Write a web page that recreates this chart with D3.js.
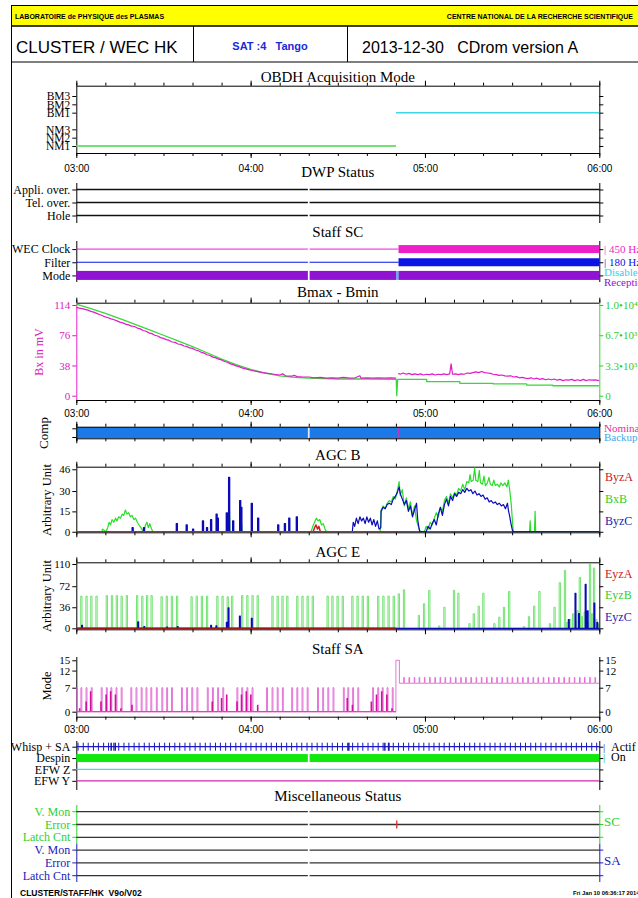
<!DOCTYPE html>
<html>
<head>
<meta charset="utf-8">
<title>CLUSTER / WEC HK</title>
<script src="https://cdn.jsdelivr.net/npm/d3@7"></script>
<style>
  body { margin: 0; background: #fff; }
  svg { display: block; }
</style>
</head>
<body>
<svg id="chart" width="638" height="898"></svg>
<script>
// all times are minutes after 03:00 UT, 2013-12-30

// OBDH acquisition mode
const obdhModes = ['NM1', 'NM2', 'NM3', '', 'BM1', 'BM2', 'BM3']
const obdhSegments = [['NM1', 0, 110.05], ['BM1', 110.05, 180]]

// DWP status
const dwpRows = ['Appli. over.', 'Tel. over.', 'Hole']
const dataGap = [79.7, 80.3]

// Staff SC : [row, from, to, level]  level 1 = set, 2 = alternate
const scRows = ['WEC Clock', 'Filter', 'Mode']
const scSegments = [
  ['WEC Clock', 0, 79.7, 0], ['WEC Clock', 80.3, 110.9, 0], ['WEC Clock', 110.9, 180, 1],
  ['Filter', 0, 79.7, 0], ['Filter', 80.3, 110.9, 0], ['Filter', 110.9, 180, 1],
  ['Mode', 0, 79.7, 1], ['Mode', 80.3, 110.2, 1], ['Mode', 110.2, 110.9, 2], ['Mode', 110.9, 180, 1]
]
const scLegend = ['| 450 Hz', '| 180 Hz', 'Disabled', 'Reception']

// Bmax - Bmin
const bxTicks = [0, 38, 76, 114]
const bmaxTicks = [0, 3333, 6667, 10000]
const bmaxTickLabels = ['0', '3.3\u202210\u00b3', '6.7\u202210\u00b3', '1.0\u202210\u2074']
const bxMv = [
  [0, 111], [1, 110], [2, 109.5], [3, 108.5], [4, 107.5], [5, 106], [6, 105], [7, 103.5], [8, 102],
  [9, 100.5], [10, 99], [11, 98], [12, 96.5], [13, 95.5], [14, 94], [15, 92.5], [16, 91.5], [17, 90],
  [18, 89], [19, 87.5], [20, 87], [21, 85], [22, 84], [23, 82], [24, 81], [25, 79], [26, 78], [27, 76],
  [28, 75], [29, 73], [30, 72], [31, 70.5], [32, 69.5], [33, 67.5], [34, 67], [35, 65], [36, 64.5],
  [37, 62.5], [38, 62], [39, 60], [40, 59.5], [41, 57.5], [42, 56.5], [43, 54.5], [44, 53.5], [45, 51.5],
  [46, 50.5], [47, 48.5], [48, 47.5], [49, 46], [50, 45], [51, 43], [52, 42], [53, 40], [54, 39],
  [55, 37.5], [56, 36.5], [57, 35], [58, 34], [59, 33], [60, 32], [62, 30.5], [64, 29], [66, 28], [68, 27],
  [70, 26], [71, 27.5], [72, 25], [74, 24.5], [75, 25.5], [76, 24], [78, 23.5], [80, 23.5], [82, 22.5],
  [84, 23], [86, 22], [88, 22.5], [90, 22], [92, 23], [94, 22], [96, 22.5], [97.6, 25], [98, 22],
  [100, 22.5], [102, 22], [104, 22.5], [106, 22], [108, 22.5], [110.1, 22], [110.2, null],
  [110.8, 28], [111.5, 27], [112.5, 28.5], [113.5, 27], [114.5, 28], [115.5, 26.5], [116.5, 27.5],
  [117.5, 26.5], [118.5, 27.5], [119.5, 26], [120.5, 27], [121.5, 26.5], [122.5, 27.5], [123.5, 26],
  [124.5, 27], [125.5, 26.5], [126.5, 27.5], [127.5, 26.5], [128.5, 27.5], [129, 40], [129.5, 27],
  [130.5, 27.5], [131.5, 26.5], [132.5, 27.5], [133.5, 27], [134.5, 28.5], [135.5, 28], [136.5, 29],
  [137.5, 30], [138.5, 29], [139.5, 30.5], [140.5, 29], [141.5, 28.5], [142.5, 28], [143.5, 27],
  [144.5, 26.5], [145.5, 25.5], [146.5, 26], [147.5, 25], [148.5, 24.5], [149.5, 25], [150.5, 23.5],
  [151.5, 24], [152.5, 22.5], [153.5, 23], [154.5, 22], [155.5, 21.5], [156.5, 22.5], [157.5, 21],
  [158.5, 22], [159.5, 20.5], [160.5, 21.5], [161.5, 20], [162.5, 21], [163.5, 20], [164.5, 21],
  [165.5, 19.5], [166.5, 20.5], [167.5, 19], [168.5, 20], [169.5, 19.5], [170.5, 20.5], [171.5, 19],
  [172.5, 20], [173.5, 19], [174.5, 20.5], [175.5, 19], [176.5, 20], [177.5, 19.5], [178.5, 20], [180, 19]
]
const bmax = [
  [0, 10088], [5, 9605], [10, 9079], [15, 8509], [20, 7895], [25, 7281], [30, 6667], [35, 6053],
  [40, 5404], [45, 4737], [50, 4035], [55, 3421], [60, 2895], [65, 2500], [70, 2193], [75, 2018],
  [80, 1930], [90, 1842], [100, 1842], [110.1, 1807], [110.3, 0], [110.6, 1807], [120.6, 1807],
  [120.6, 1544], [132, 1544], [132, 1368], [143.5, 1368], [143.5, 1298], [155, 1298], [155, 1175],
  [164, 1175], [164, 1096], [180, 1096]
]

// Comp
const compRows = ['Nominal', 'Backup']
const compSwitch = [110.6, 111.1]

// AGC B
const agcBTicks = [0, 15, 30, 46]
const agcBLegend = ['ByzA', 'BxB', 'ByzC']
const byzA = [[0, 0], [81.5, 0], [82, 3], [82.5, 5], [83, 2], [83.5, 4], [84, 0], [110.2, 0]]
const bxB = [
  [0, 0], [8.8, 0], [9, 2], [9.6, 1], [10.2, 0], [10.8, 3], [11.3, 7], [11.8, 5], [12.3, 9], [12.9, 7],
  [13.5, 10], [14, 8], [14.6, 11], [15.2, 10], [15.8, 13], [16.3, 12], [16.9, 16], [17.4, 13], [18, 14],
  [18.6, 11], [19.2, 12], [19.8, 9], [20.4, 10], [21, 7], [21.6, 5], [22.2, 3], [22.8, 1], [23.3, 0],
  [23.8, 5], [24.3, 7], [24.8, 3], [25.3, 6], [25.9, 2], [26.4, 0], [52.3, 0], [52.6, 26], [52.9, 0],
  [56.5, 0], [56.8, 8], [57.1, 0], [80.8, 0], [81.4, 4], [82, 7], [82.6, 10], [83.2, 8], [83.8, 9],
  [84.4, 5], [85, 6], [85.6, 2], [86.2, 0], [104.6, 0], [104.9, 16], [105.6, 19], [106.3, 17], [107, 21],
  [107.7, 23], [108.4, 22], [109.1, 26], [109.8, 24], [110.5, 30], [111.1, 37], [111.5, 27], [112.2, 31],
  [112.9, 19], [113.6, 25], [114.3, 17], [115, 22], [115.7, 12], [116.4, 19], [117.1, 8], [117.7, 4],
  [118.3, 0], [119.8, 0], [120.4, 4], [121.1, 2], [121.8, 7], [122.5, 5], [123.2, 10], [123.9, 14],
  [124.6, 11], [125.3, 18], [126, 15], [126.7, 23], [127.4, 26], [128.1, 21], [128.8, 28], [129.5, 25],
  [130.2, 29], [130.9, 27], [131.6, 32], [132.3, 30], [133, 35], [133.7, 31], [134.4, 37], [135.1, 36],
  [135.5, 42], [135.9, 37], [136.6, 38], [137.1, 47], [137.5, 38], [138.2, 37], [138.7, 45], [139.1, 36],
  [139.8, 35], [140.3, 41], [140.8, 34], [141.5, 36], [142, 40], [142.5, 35], [143.2, 34], [143.7, 38],
  [144.2, 34], [144.9, 35], [145.6, 33], [146.1, 36], [146.8, 34], [147.5, 36], [148.2, 33], [148.7, 38],
  [149.2, 30], [149.7, 20], [150.1, 8], [150.4, 0], [156, 0], [156.2, 8], [156.4, 0], [157.7, 0],
  [157.9, 15], [158.1, 0], [180, 0]
]
const byzCSpikes = [
  [19.4, 3], [23.3, 3], [34.6, 6], [38, 5], [40.2, 2], [43.6, 8], [45, 3], [46.4, 9], [48.3, 13],
  [48.7, 10], [51.8, 14], [52.6, 40], [54, 8], [56.4, 23], [56.8, 18], [60.4, 21], [62.6, 10],
  [69.5, 5], [71.8, 6], [73.3, 10], [75.9, 11]
]
const byzC = [
  [95, 0], [95.3, 7], [95.8, 4], [96.4, 10], [97, 6], [97.6, 11], [98.2, 8], [98.8, 10], [99.4, 6],
  [100, 11], [100.6, 7], [101.2, 10], [101.8, 5], [102.4, 9], [103, 4], [103.6, 8], [104.2, 2], [104.8, 3],
  [104.9, 15], [105.6, 18], [106.3, 17], [107, 20], [107.7, 21], [108.4, 20], [109.1, 24], [109.8, 26],
  [110.5, 29], [111.1, 33], [111.5, 28], [112.2, 24], [112.9, 20], [113.6, 23], [114.3, 15], [115, 19],
  [115.7, 11], [116.4, 16], [117.1, 21], [117.5, 9], [118, 2], [118.3, 0], [120.4, 0], [121.1, 4],
  [121.8, 2], [122.5, 6], [123.2, 9], [123.9, 5], [124.6, 13], [125.3, 18], [126, 12], [126.7, 20],
  [127.4, 24], [128.1, 19], [128.8, 26], [129.5, 23], [130.2, 28], [130.9, 26], [131.6, 29], [132.3, 28],
  [133, 31], [133.7, 29], [134.4, 32], [135.1, 30], [135.8, 31], [136.5, 28], [137.2, 30], [137.9, 27],
  [138.6, 28], [139.3, 26], [140, 27], [140.7, 24], [141.4, 25], [142.1, 22], [142.8, 23], [143.5, 21],
  [144.2, 22], [144.9, 20], [145.6, 21], [146.3, 19], [147, 20], [147.7, 17], [148.4, 21], [148.7, 16],
  [149.1, 12], [149.6, 6], [150.1, 1], [150.4, 0], [180, 0]
]

// AGC E
const agcETicks = [0, 36, 72, 110]
const agcELegend = ['EyzA', 'EyzB', 'EyzC']
const eyzA = [[0, 0], [110.2, 0]]
const eyzB = [
  [1.74, 55], [3.52, 55], [5.18, 55], [6.96, 55], [10.51, 56], [12.29, 56], [13.95, 56], [15.61, 55],
  [17.39, 56], [20.95, 56], [22.72, 55], [24.38, 56], [25.92, 56], [29.36, 54], [31.14, 55], [32.92, 55],
  [34.7, 55], [39.68, 54], [41.45, 55], [43.23, 55], [45.01, 55], [48.56, 55], [50.34, 55], [52.12, 54],
  [53.66, 55], [57.1, 56], [58.88, 56], [60.66, 56], [62.43, 56], [67.53, 55], [69.31, 55], [70.97, 55],
  [72.63, 55], [76.07, 55], [77.85, 55], [79.62, 55], [81.4, 55], [86.5, 55], [88.16, 55], [89.93, 55],
  [91.71, 55], [95.03, 55], [96.81, 55], [98.59, 55], [100.37, 55], [103.92, 55], [105.7, 55],
  [107.48, 55], [109.26, 55],
  [111, 59], [112.8, 66], [117.9, 22], [119.7, 42], [121.5, 65], [124.9, 4], [126.7, 36], [130, 65],
  [131.5, 60], [135.3, 8], [136.8, 25], [138.5, 38], [140.1, 60], [143.9, 8], [145.6, 19], [147.2, 36],
  [149, 63], [154.1, 3], [155.8, 20], [157.6, 38], [159.4, 63], [163, 8], [164.6, 36], [166.4, 78],
  [168.2, 99], [169, 10], [170, 15], [171, 25], [172, 12], [172.5, 30], [173.3, 87], [174, 20], [175, 28],
  [176, 12], [176.8, 110], [177.5, 25], [178.2, 103], [179, 15], [179.5, 8]
]
const eyzC = [
  [1.98, 5], [21.3, 11], [23.4, 3], [31.26, 2], [34.9, 3], [46.4, 5], [48.2, 4], [51.8, 10], [52.4, 35],
  [56.3, 21], [60.4, 17], [169.5, 15], [171.8, 60], [173, 25], [175.3, 75], [176, 30], [178.3, 43], [179.3, 10]
]

// Staff SA mode
const saTicks = [0, 7, 12, 15]
const saPulses = [
  0.2, 1.74, 3.52, 5.3, 8.74, 10.51, 12.06, 13.83, 15.61, 18.93, 20.71, 22.49, 24.15, 25.81, 27.7,
  29.6, 31.26, 32.92, 36.36, 38.13, 39.91, 41.69, 45.25, 47.03, 48.8, 50.58, 55.44, 57.1, 58.88, 60.66,
  65.64, 67.53, 69.31, 71.09, 74.29, 76.07, 77.85, 79.62, 83.18, 84.96, 86.73, 88.51, 92.07, 93.61,
  95.27, 97.05, 102.14, 103.92, 105.46, 107.12, 108.9
]
const saPulseLevel = 7
const saInner = [
  [1.15, 1], [3.4, 3], [4.94, 6], [8.5, 3], [10.28, 5], [11.82, 6], [13.48, 5], [15.37, 1], [19.17, 2],
  [46.79, 3], [49.99, 4], [51.77, 5], [55.32, 3], [56.86, 5], [58.52, 6], [60.07, 5], [62.43, 2],
  [93.25, 4], [95.03, 2], [101.55, 3], [103.33, 5], [105.11, 6], [106.88, 5], [108.66, 1]
]
const saSwitch = [[110, 0], [110, 15], [111.2, 15], [111.2, 8.3]]
const saAfterBase = 8.3
const saAfterPeak = 10
const saAfterPulses = [
  112.8, 114.6, 116.4, 118.1, 119.9, 121.7, 123.5, 125.3, 127, 128.8, 130.6, 132.4, 134.1, 135.9,
  137.7, 139.5, 141.3, 143, 144.8, 146.6, 148.4, 150.1, 151.9, 153.7, 155.5, 157.3, 159, 160.8,
  162.6, 164.4, 166.1, 167.9, 169.7, 171.5, 173.3, 175, 176.8, 178.6
]

// Whisper + SA, Despin, EFW
const whispRows = ['Whisp + SA', 'Despin', 'EFW Z', 'EFW Y']
const whispTicks = [
  0.6, 2.4, 4.1, 5.9, 7.6, 9.4, 11.1, 12.9, 14.6, 16.4, 18.1, 19.9, 21.6, 23.4, 25.1, 26.9, 28.6, 30.4,
  32.1, 33.9, 35.6, 37.4, 39.1, 40.9, 42.6, 44.4, 46.1, 47.9, 49.6, 51.4, 53.1, 54.9, 56.6, 58.4, 60.1,
  61.9, 63.6, 65.4, 67.1, 68.9, 70.6, 72.4, 74.1, 75.9, 77.6, 79.4, 81.1, 82.9, 84.6, 86.4, 88.1, 89.9,
  91.6, 93.4, 95.1, 96.9, 98.6, 100.4, 102.1, 103.9, 105.6, 107.4, 109.1, 110.9, 112.6, 114.4, 116.1,
  117.9, 119.6, 121.4, 123.1, 124.9, 126.6, 128.4, 130.1, 131.9, 133.6, 135.4, 137.1, 138.9, 140.6,
  142.4, 144.1, 145.9, 147.6, 149.4, 151.1, 152.9, 154.6, 156.4, 158.1, 159.9, 161.6, 163.4, 165.1,
  166.9, 168.6, 170.4, 172.1, 173.9, 175.6, 177.4, 179.1
]
const whispBold = [12, 13.4, 93.8, 106.2, 107.6]
const despinSegments = [[0, 79.7], [80.3, 180]]

// Miscellaneous status
const miscRows = [['SC', 'V. Mon'], ['SC', 'Error'], ['SC', 'Latch Cnt'], ['SA', 'V. Mon'], ['SA', 'Error'], ['SA', 'Latch Cnt']]
const miscErrors = [['SC', 'Error', 110.3]]

// ---------------------------------------------------------------
const dayStart = Date.UTC(2013, 11, 30, 3, 0)
const tm = m => new Date(dayStart + m * 60000)
const X0 = 76.3, X1 = 599.3
const x = d3.scaleUtc().domain([tm(0), tm(180)]).range([X0, X1])
const xm = m => x(tm(m))

const SERIF = '"Liberation Serif", "DejaVu Serif", serif'
const SANS = '"Liberation Sans", Arial, sans-serif'
const svg = d3.select('#chart')

const C = {
  green: '#2fdc2f', lightGreen: '#62e062', cyan: '#3fd6e6', magenta: '#ee1ec8', pink: '#e066d2',
  blue: '#0a0ab8', purple: '#9012d2', red: '#cc2020', compBlue: '#1c7ae8'
}

function seg(x1, y1, x2, y2, color, w) {
  return svg.append('line').attr('x1', x1).attr('y1', y1).attr('x2', x2).attr('y2', y2)
    .attr('stroke', color || '#000').attr('stroke-width', w || 1)
}
function text(txt, tx, ty, o) {
  o = o || {}
  return svg.append('text').attr('x', tx).attr('y', ty)
    .attr('font-family', o.font || SERIF).attr('font-size', o.size || 12)
    .attr('font-weight', o.weight || 'normal').attr('fill', o.color || '#000')
    .attr('text-anchor', o.anchor || 'start').style('white-space', 'pre').text(txt)
}
function vtext(txt, tx, ty, color, size) {
  return svg.append('text').attr('transform', `translate(${tx},${ty}) rotate(-90)`)
    .attr('text-anchor', 'middle').attr('font-family', SERIF).attr('font-size', size || 13)
    .attr('fill', color || '#000').text(txt)
}
function title(txt, ty) {
  text(txt, (X0 + X1) / 2, ty, { size: 15, anchor: 'middle' })
}
function timeAxis(ty, dir) {
  const make = dir === 'up' ? d3.axisTop : d3.axisBottom
  const g = svg.append('g').attr('transform', `translate(0,${ty})`).attr('color', '#000')
  g.append('g').call(make(x).ticks(d3.utcMinute.every(10)).tickSize(3).tickSizeOuter(0).tickFormat(''))
  g.append('g').call(make(x).ticks(d3.utcHour.every(1)).tickSize(5).tickFormat(''))
    .select('.domain').remove()
}
function timeLabels(ty) {
  const g = svg.append('g').attr('transform', `translate(0,${ty})`)
    .call(d3.axisBottom(x).ticks(d3.utcHour.every(1)).tickSize(0).tickPadding(0)
      .tickFormat(d3.utcFormat('%H:%M')))
  g.select('.domain').remove()
  g.attr('font-family', SANS).attr('font-size', 10)
}
function sideAxis(scale, side, o) {
  o = o || {}
  let ax = (side === 'left' ? d3.axisLeft(scale) : d3.axisRight(scale)).tickSize(4).tickPadding(2).tickSizeOuter(0)
  if (o.values) ax = ax.tickValues(o.values)
  if (o.format) ax = ax.tickFormat(o.format)
  const g = svg.append('g').attr('transform', `translate(${side === 'left' ? X0 : X1},0)`).call(ax)
  g.select('.domain').remove()
  g.attr('font-family', SERIF).attr('font-size', o.size || 12).attr('color', o.color || '#000')
  g.selectAll('.tick').filter(d => d === '').remove()
  return g
}
function clipped(id, y0, y1) {
  svg.append('clipPath').attr('id', id).append('rect')
    .attr('x', X0).attr('y', y0).attr('width', X1 - X0).attr('height', y1 - y0)
  return svg.append('g').attr('clip-path', `url(#${id})`)
}
function pulseTrain(spikes, base, half) {
  const pts = [[0, base]]
  spikes.forEach(([t, v]) => pts.push([t - half, base], [t - half, v], [t + half, v], [t + half, base]))
  pts.push([180, base])
  return pts
}
const lineOn = ys => d3.line().defined(d => d[1] != null).x(d => xm(d[0])).y(d => ys(d[1]))
function drawPath(g, data, gen, color, w) {
  g.append('path').datum(data).attr('d', gen).attr('fill', 'none')
    .attr('stroke', color).attr('stroke-width', w || 1).attr('stroke-linejoin', 'round')
}
function rowSegments(yRow, row) {
  return [[0, dataGap[0]], [dataGap[1], 180]].map(([a, b]) => ({ row, a, b, y: yRow(row) }))
}

// ---------------- header ----------------
svg.append('rect').attr('x', 11.5).attr('y', 5.5).attr('width', 700).attr('height', 20.5)
  .attr('fill', '#ffff00').attr('stroke', '#000')
svg.append('rect').attr('x', 11.5).attr('y', 26).attr('width', 700).attr('height', 36)
  .attr('fill', 'none').attr('stroke', '#000')
seg(11.5, 5, 11.5, 898)
seg(193.5, 26, 193.5, 62)
seg(347.5, 26, 347.5, 62)
text('LABORATOIRE de PHYSIQUE des PLASMAS', 15, 19, { font: SANS, size: 7, weight: 'bold' })
text('CENTRE NATIONAL DE LA RECHERCHE SCIENTIFIQUE', 633, 19, { font: SANS, size: 7, weight: 'bold', anchor: 'end' })
text('CLUSTER / WEC HK', 16, 52.5, { font: SANS, size: 17 })
text('SAT :4   Tango', 270, 50, { font: SANS, size: 11, weight: 'bold', color: '#1a2ad8', anchor: 'middle' })
text('2013-12-30   CDrom version A', 362, 52.5, { font: SANS, size: 16 })

// ---------------- OBDH ----------------
title('OBDH Acquisition Mode', 81.5)
const yObdh = d3.scalePoint().domain(obdhModes).range([146, 96])
timeAxis(85.7, 'up')
timeAxis(153, 'down')
seg(X0 + 0.5, 85.7, X0 + 0.5, 153)
seg(X1 + 0.5, 85.7, X1 + 0.5, 153)
sideAxis(yObdh, 'left', { size: 11.5 })
sideAxis(yObdh, 'right', { format: () => '' })
svg.append('g').selectAll('line').data(obdhSegments).join('line')
  .attr('x1', d => xm(d[1])).attr('x2', d => xm(d[2]))
  .attr('y1', d => yObdh(d[0])).attr('y2', d => yObdh(d[0]))
  .attr('stroke', d => d[0].startsWith('NM') ? '#72e272' : C.cyan)
  .attr('stroke-width', d => d[0].startsWith('NM') ? 2.2 : 1.5)
timeLabels(165)

// ---------------- DWP ----------------
title('DWP Status', 176.5)
const yDwp = d3.scalePoint().domain(dwpRows).range([183, 222]).padding(0.5)
seg(X0 + 0.5, 183, X0 + 0.5, 223)
seg(X1 + 0.5, 183, X1 + 0.5, 223)
sideAxis(yDwp, 'left', { size: 12 })
sideAxis(yDwp, 'right', { format: () => '' })
svg.append('g').selectAll('line').data(dwpRows.flatMap(r => rowSegments(yDwp, r))).join('line')
  .attr('x1', d => xm(d.a)).attr('x2', d => xm(d.b)).attr('y1', d => d.y).attr('y2', d => d.y)
  .attr('stroke', '#111').attr('stroke-width', 1.3)

// ---------------- Staff SC ----------------
title('Staff SC', 237)
const ySc = d3.scalePoint().domain(scRows).range([242.5, 282]).padding(0.5)
const scColor = { 'WEC Clock': C.magenta, 'Filter': '#0a14e6', 'Mode': C.purple }
seg(X0 + 0.5, 241, X0 + 0.5, 282)
seg(X1 + 0.5, 241, X1 + 0.5, 282)
sideAxis(ySc, 'left', { size: 12 })
sideAxis(ySc, 'right', { format: () => '' })
svg.append('g').selectAll('rect').data(scSegments).join('rect')
  .attr('x', d => xm(d[1])).attr('width', d => xm(d[2]) - xm(d[1]))
  .attr('y', d => ySc(d[0]) - (d[3] ? (d[0] === 'Mode' ? 4.5 : 4) : 0.5))
  .attr('height', d => d[3] ? (d[0] === 'Mode' ? 9 : 8) : 1)
  .attr('fill', d => d[3] === 2 ? '#22ccf0' : scColor[d[0]])
const scLegendColor = [C.magenta, '#0a14e6', '#30d0f0', C.purple]
const scLegendY = [ySc('WEC Clock'), ySc('Filter'), ySc('Mode') - 3.5, ySc('Mode') + 7]
scLegend.forEach((t, i) => text(t, 604, scLegendY[i] + 4, { size: 11, color: scLegendColor[i] }))

// ---------------- Bmax - Bmin ----------------
title('Bmax - Bmin', 297)
const yBx = d3.scaleLinear().domain([-5.4, 116.9]).range([400, 302.7])
const yBmax = d3.scaleLinear().domain([-5.4 * 87.72, 116.9 * 87.72]).range([400, 302.7])
timeAxis(302.7, 'up')
timeAxis(400, 'down')
seg(X0 + 0.5, 302.7, X0 + 0.5, 400, C.magenta)
seg(X1 + 0.5, 302.7, X1 + 0.5, 400, '#38d838')
sideAxis(yBx, 'left', { values: bxTicks, color: '#d81cc0', size: 11 })
sideAxis(yBmax, 'right', { values: bmaxTicks, format: (d, i) => bmaxTickLabels[i], color: '#30cc30', size: 11 })
vtext('Bx in mV', 43, 352, '#d81cc0', 12)
const gBx = clipped('clipBx', 302.7, 400)
drawPath(gBx, bmax, lineOn(yBmax), '#38d838', 1.3)
drawPath(gBx, bxMv, lineOn(yBx), '#e01cc8', 1.2)
timeLabels(409.5)

// ---------------- Comp ----------------
const yComp = d3.scalePoint().domain(compRows).range([428.3, 437])
svg.append('rect').attr('x', X0).attr('y', 427).attr('width', X1 - X0).attr('height', 11.3).attr('fill', C.compBlue)
svg.append('rect').attr('x', xm(dataGap[0])).attr('y', 427).attr('width', xm(dataGap[1]) - xm(dataGap[0]))
  .attr('height', 11.3).attr('fill', '#dfe9ff')
svg.append('rect').attr('x', xm(compSwitch[0])).attr('y', 427).attr('width', xm(compSwitch[1]) - xm(compSwitch[0]))
  .attr('height', 11.3).attr('fill', '#b040c0')
timeAxis(426.7, 'up')
timeAxis(438.3, 'down')
seg(X0 + 0.5, 424, X0 + 0.5, 441)
seg(X1 + 0.5, 424, X1 + 0.5, 441)
sideAxis(yComp, 'left', { format: () => '' })
vtext('Comp', 48, 433, '#000', 13)
text('Nominal', 604, 431.5, { size: 11, color: '#e0309a' })
text('Backup', 604, 441, { size: 11, color: '#40a8e8' })

// ---------------- AGC B ----------------
title('AGC B', 460)
const yAgcB = d3.scaleLinear().domain([-0.4, 47.9]).range([532.3, 466.7])
timeAxis(466.7, 'up')
timeAxis(532.3, 'down')
seg(X0 + 0.5, 466.7, X0 + 0.5, 532.3)
seg(X1 + 0.5, 466.7, X1 + 0.5, 532.3)
sideAxis(yAgcB, 'left', { values: agcBTicks, size: 11 })
sideAxis(yAgcB, 'right', { values: agcBTicks, format: () => '' })
vtext('Arbitrary Unit', 51, 500, '#000', 12.5)
const gB = clipped('clipB', 466.7, 532.3)
const lB = lineOn(yAgcB)
drawPath(gB, bxB, lB, '#28dc28', 1.2)
drawPath(gB, pulseTrain(byzCSpikes, 0, 0.2), lB, C.blue, 1.2)
drawPath(gB, byzC, lB, C.blue, 1.2)
drawPath(gB, byzA, lB, C.red, 1.5)
const agcColors = [C.red, '#30d030', '#1a1ab0']
agcBLegend.forEach((t, i) => text(t, 605, [481, 503, 525][i], { size: 12, color: agcColors[i] }))

// ---------------- AGC E ----------------
title('AGC E', 557)
const yAgcE = d3.scaleLinear().domain([-1.7, 112.9]).range([629.3, 562.3])
timeAxis(562.3, 'up')
timeAxis(629.3, 'down')
seg(X0 + 0.5, 562.3, X0 + 0.5, 629.3)
seg(X1 + 0.5, 562.3, X1 + 0.5, 629.3)
sideAxis(yAgcE, 'left', { values: agcETicks, size: 11 })
sideAxis(yAgcE, 'right', { values: agcETicks, format: () => '' })
vtext('Arbitrary Unit', 51, 596, '#000', 12.5)
const gE = clipped('clipE', 562.3, 629.3)
const lE = lineOn(yAgcE)
drawPath(gE, pulseTrain(eyzB, 0, 0.22), lE, C.lightGreen, 0.9)
drawPath(gE, pulseTrain(eyzC, 0, 0.15), lE, C.blue, 1.2)
drawPath(gE, eyzA, lE, '#9a1a1a', 1.6)
agcELegend.forEach((t, i) => text(t, 605, [577.5, 599, 621][i], { size: 12, color: agcColors[i] }))

// ---------------- Staff SA ----------------
title('Staff SA', 654)
const ySa = d3.scaleLinear().domain([-1.46, 15.96]).range([716.7, 657])
timeAxis(716.7, 'down')
seg(X0 + 0.5, 657, X0 + 0.5, 716.7)
seg(X1 + 0.5, 657, X1 + 0.5, 716.7)
sideAxis(ySa, 'left', { values: saTicks, size: 11 })
sideAxis(ySa, 'right', { values: saTicks, size: 11 })
vtext('Mode', 51, 686, '#000', 12.5)
const gSa = clipped('clipSa', 655, 716.7)
const lSa = lineOn(ySa)
const saMain = pulseTrain(saPulses.map(t => [t, saPulseLevel]), 0, 0.16).filter(d => d[0] <= 110)
  .concat(saSwitch)
  .concat(pulseTrain(saAfterPulses.map(t => [t, saAfterPeak]), saAfterBase, 0.1).filter(d => d[0] > 111.2))
drawPath(gSa, saMain, lSa, C.pink, 0.9)
gSa.append('g').selectAll('line').data(saInner).join('line')
  .attr('x1', d => xm(d[0])).attr('x2', d => xm(d[0])).attr('y1', ySa(0)).attr('y2', d => ySa(d[1]))
  .attr('stroke', '#d2109e').attr('stroke-width', 1.6)
gSa.append('line').attr('x1', X0).attr('x2', xm(110)).attr('y1', ySa(0)).attr('y2', ySa(0))
  .attr('stroke', '#e040c8').attr('stroke-width', 1.3)
timeLabels(725.5)

// ---------------- Whisper / Despin / EFW ----------------
const yWh = d3.scalePoint().domain(whispRows).range([741, 786.5]).padding(0.5)
seg(X0 + 0.5, 741, X0 + 0.5, 790)
seg(X1 + 0.5, 741, X1 + 0.5, 790)
sideAxis(yWh, 'left', { size: 12 })
sideAxis(yWh, 'right', { format: () => '' })
const yW = yWh('Whisp + SA')
seg(X0, yW, X1, yW, '#1a1ac0', 1.3)
svg.append('g').selectAll('line').data(whispTicks).join('line')
  .attr('x1', d => xm(d)).attr('x2', d => xm(d)).attr('y1', yW - 4).attr('y2', yW + 4)
  .attr('stroke', '#1a1ac0').attr('stroke-width', 1)
svg.append('g').selectAll('line').data(whispBold).join('line')
  .attr('x1', d => xm(d)).attr('x2', d => xm(d)).attr('y1', yW - 4).attr('y2', yW + 4)
  .attr('stroke', '#10109a').attr('stroke-width', 1.4)
svg.append('g').selectAll('rect').data(despinSegments).join('rect')
  .attr('x', d => xm(d[0])).attr('width', d => xm(d[1]) - xm(d[0]))
  .attr('y', yWh('Despin') - 4).attr('height', 8).attr('fill', '#10e810')
seg(X0, yWh('EFW Z'), X1, yWh('EFW Z'), '#44d8ee', 1.3)
seg(X0, yWh('EFW Y'), X1, yWh('EFW Y'), '#d02ab0', 1.3)
text('|', 603, yW + 4, { size: 11, color: '#1a1ac0' })
text('Actif', 611, yW + 4, { size: 12 })
text('|', 603, yWh('Despin') + 3, { size: 11, color: '#10c810' })
text('On', 611, yWh('Despin') + 3, { size: 12 })

// ---------------- Miscellaneous ----------------
title('Miscellaneous Status', 801)
const miscKey = d => d[0] + ' ' + d[1]
const yMisc = d3.scalePoint().domain(miscRows.map(miscKey)).range([805.3, 882.1]).padding(0.5)
const miscColor = { SC: '#30d030', SA: '#1a1ab8' }
const mid = 843.7
seg(X0 + 0.5, 805, X0 + 0.5, mid, miscColor.SC)
seg(X0 + 0.5, mid, X0 + 0.5, 882, miscColor.SA)
seg(X1 + 0.5, 805, X1 + 0.5, mid, miscColor.SC)
seg(X1 + 0.5, mid, X1 + 0.5, 882, miscColor.SA)
miscRows.forEach(r => {
  const yy = yMisc(miscKey(r))
  seg(X0 - 4, yy, X0, yy, miscColor[r[0]])
  seg(X1, yy, X1 + 4, yy, miscColor[r[0]])
  text(r[1], X0 - 6, yy + 4, { size: 12, color: miscColor[r[0]], anchor: 'end' })
})
svg.append('g').selectAll('line').data(miscRows.flatMap(r => rowSegments(k => yMisc(miscKey(k)), r))).join('line')
  .attr('x1', d => xm(d.a)).attr('x2', d => xm(d.b)).attr('y1', d => d.y).attr('y2', d => d.y)
  .attr('stroke', '#333').attr('stroke-width', 1.3)
svg.append('g').selectAll('line').data(miscErrors).join('line')
  .attr('x1', d => xm(d[2])).attr('x2', d => xm(d[2]))
  .attr('y1', d => yMisc(d[0] + ' ' + d[1]) - 4).attr('y2', d => yMisc(d[0] + ' ' + d[1]) + 4)
  .attr('stroke', '#e02a2a').attr('stroke-width', 1.3)
text('SC', 604, 826, { size: 13, color: miscColor.SC })
text('SA', 604, 865, { size: 13, color: miscColor.SA })

// ---------------- footer ----------------
text('CLUSTER/STAFF/HK  V9o/V02', 20, 896, { font: SANS, size: 8.5, weight: 'bold' })
text('Fri Jan 10 06:36:17 2014', 573, 895, { font: SANS, size: 5.8, weight: 'bold' })
</script>
</body>
</html>
